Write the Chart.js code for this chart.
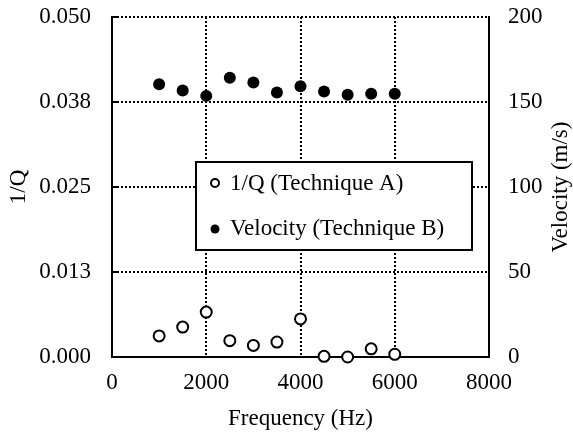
<!DOCTYPE html>
<html>
<head>
<meta charset="utf-8">
<script src="https://cdn.jsdelivr.net/npm/chart.js@4"></script>
<style>
  html, body { margin: 0; padding: 0; background: #fff; }
  #wrap { width: 573px; height: 436px; }
</style>
</head>
<body>
<div id="wrap"><canvas id="grafico" width="573" height="436"></canvas></div>
<script>
// frequencias (Hz)
const frequencia = [1000, 1500, 2000, 2500, 3000, 3500, 4000, 4500, 5000, 5500, 6000];
// 1/Q - tecnica A
const inversoQ = [0.0031, 0.0044, 0.0066, 0.0024, 0.0017, 0.0022, 0.0056, 0.0001, 0.0000, 0.0012, 0.0004];
// velocidade (m/s) - tecnica B
const velocidade = [160.5, 156.8, 153.6, 164.2, 161.5, 155.6, 159.3, 156.2, 154.2, 154.8, 154.8];

const rotulosQ = ['0.000', '0.013', '0.025', '0.038', '0.050'];
const rotulosX = ['0', '2000', '4000', '6000', '8000'];
const rotulosVel = ['0', '50', '100', '150', '200'];

const nomes = ['1/Q (Technique A)', 'Velocity (Technique B)'];

const fonte = '"Liberation Serif", "Times New Roman", serif';

function pontos(valores) {
  return frequencia.map((f, i) => ({ x: f, y: valores[i] }));
}

// desenha titulos, legenda e tracinhos do eixo
const extras = {
  id: 'extras',
  afterDraw(chart) {
    const ctx = chart.ctx;
    const area = chart.chartArea;
    const y = chart.scales.y;
    ctx.save();
    // tracinhos pra dentro no eixo esquerdo
    ctx.strokeStyle = '#000';
    ctx.lineWidth = 2;
    y.ticks.forEach((t, i) => {
      const py = y.getPixelForTick(i);
      ctx.beginPath();
      ctx.moveTo(area.left, py);
      ctx.lineTo(area.left + 5, py);
      ctx.stroke();
    });

    ctx.fillStyle = '#000';
    ctx.font = '23px ' + fonte;
    ctx.textAlign = 'center';
    ctx.textBaseline = 'middle';
    ctx.fillText('Frequency (Hz)', (area.left + area.right) / 2, 419);

    ctx.save();
    ctx.translate(19, (area.top + area.bottom) / 2);
    ctx.rotate(-Math.PI / 2);
    ctx.fillText('1/Q', 0, 0);
    ctx.restore();

    ctx.save();
    ctx.translate(561, (area.top + area.bottom) / 2);
    ctx.rotate(-Math.PI / 2);
    ctx.fillText('Velocity (m/s)', 0, 0);
    ctx.restore();

    // legenda
    const bx = 196, by = 162, bw = 276, bh = 88;
    ctx.fillStyle = '#fff';
    ctx.fillRect(bx, by, bw, bh);
    ctx.strokeStyle = '#000';
    ctx.lineWidth = 2;
    ctx.strokeRect(bx, by, bw, bh);

    ctx.lineWidth = 2;
    ctx.beginPath();
    ctx.arc(215, 183, 4, 0, Math.PI * 2);
    ctx.fillStyle = '#fff';
    ctx.fill();
    ctx.stroke();
    ctx.beginPath();
    ctx.arc(215, 229, 4.5, 0, Math.PI * 2);
    ctx.fillStyle = '#000';
    ctx.fill();

    ctx.textAlign = 'left';
    ctx.fillText(nomes[0], 230, 184);
    ctx.fillText(nomes[1], 230, 229);
    ctx.restore();
  }
};

const grade = { color: '#000', lineWidth: 2, drawTicks: false };
const borda = { display: true, color: '#000', width: 2, dash: [2, 2] };

// ajusta a largura do eixo e tira o padding automatico
function fixaEixo(largura) {
  return (s) => {
    s.width = largura;
    s.paddingTop = 0;
    s.paddingBottom = 0;
  };
}

new Chart(document.getElementById('grafico'), {
  type: 'scatter',
  data: {
    datasets: [
      {
        label: nomes[0],
        data: pontos(inversoQ),
        yAxisID: 'y',
        pointStyle: 'circle',
        pointRadius: 5.5,
        pointBorderWidth: 2,
        pointBackgroundColor: '#fff',
        pointBorderColor: '#000',
        clip: false
      },
      {
        label: nomes[1],
        data: pontos(velocidade),
        yAxisID: 'y1',
        pointStyle: 'circle',
        pointRadius: 6,
        pointBorderWidth: 0,
        pointBackgroundColor: '#000',
        pointBorderColor: '#000',
        clip: false
      }
    ]
  },
  options: {
    responsive: false,
    animation: false,
    layout: { autoPadding: false, padding: { top: 17, left: 0, right: 0, bottom: 0 } },
    plugins: { legend: { display: false }, tooltip: { enabled: false } },
    scales: {
      x: {
        type: 'linear',
        min: 0, max: 8000,
        ticks: {
          stepSize: 2000, padding: 12, color: '#000',
          font: { family: fonte, size: 23 },
          callback: (v, i) => rotulosX[i]
        },
        grid: grade,
        border: borda,
        afterFit: (s) => { s.height = 79; s.paddingLeft = 0; s.paddingRight = 0; }
      },
      y: {
        position: 'left',
        min: 0, max: 0.05,
        ticks: {
          stepSize: 0.0125, padding: 21, color: '#000',
          font: { family: fonte, size: 23 },
          callback: (v, i) => rotulosQ[i]
        },
        grid: grade,
        border: borda,
        afterFit: fixaEixo(112)
      },
      y1: {
        position: 'right',
        min: 0, max: 200,
        ticks: {
          stepSize: 50, padding: 19, color: '#000',
          font: { family: fonte, size: 23 },
          callback: (v, i) => rotulosVel[i]
        },
        grid: { display: false, drawTicks: false },
        border: { display: true, color: '#000', width: 2 },
        afterFit: fixaEixo(84)
      }
    }
  },
  plugins: [extras]
});
</script>
</body>
</html>
